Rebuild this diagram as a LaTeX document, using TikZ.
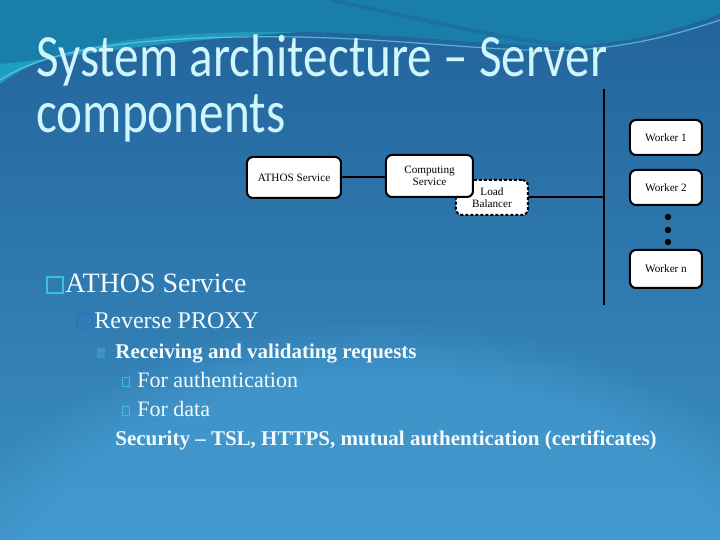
\documentclass[tikz,border=0pt]{standalone}
\usepackage{fontspec}
\setmainfont{Liberation Serif}
\newfontfamily\titlefont[FakeStretch=0.82]{Carlito}
\usetikzlibrary{positioning,fadings}

\definecolor{slidetop}{HTML}{21639A}
\definecolor{slidemid}{HTML}{2E7CB2}
\definecolor{slidebot}{HTML}{3C8FC3}
\definecolor{slideglow}{HTML}{48A3D8}
\definecolor{bandteal}{HTML}{1A7EAA}
\definecolor{bandbright}{HTML}{20A6C6}
\definecolor{swoosh}{HTML}{6FD6E6}
\definecolor{titlecyan}{HTML}{CFF5FD}
\definecolor{bulletcyan}{HTML}{3CC0D6}
\definecolor{bulletblue}{HTML}{2C74C0}
\definecolor{bulletfaint}{HTML}{3E92C8}
\definecolor{bodywhite}{HTML}{F4FBFF}

\tikzset{
  compbox/.style={draw=black, line width=1pt, fill=white, rounded corners=3pt,
    align=center, inner sep=1pt, font=\fontsize{5.6}{6.2}\selectfont},
  lbbox/.style={compbox, dash pattern=on 1.5pt off 1pt},
  wire/.style={line width=1pt},
  bulletsq/.style={line width=0.9pt},
  titletext/.style={anchor=base west, inner sep=0pt, text=titlecyan,
    font=\titlefont\fontsize{30}{29}\selectfont},
  level1/.style={anchor=base west, inner sep=0pt, text=bodywhite, font=\fontsize{14}{16}\selectfont},
  level2/.style={anchor=base west, inner sep=0pt, text=bodywhite, font=\fontsize{12}{14}\selectfont},
  level3/.style={anchor=base west, inner sep=0pt, text=bodywhite, font=\bfseries\fontsize{10.5}{12}\selectfont},
  level4/.style={anchor=base west, inner sep=0pt, text=bodywhite, font=\fontsize{11}{12}\selectfont}
}

\begin{document}
\begin{tikzpicture}[x=0.5pt, y=-0.5pt]
  \useasboundingbox (0,0) rectangle (720,540);

  % Slide background
  \fill[top color=slidetop, middle color=slidemid, bottom color=slidebot] (0,0) rectangle (720,540);
  \fill[slideglow, opacity=0.55, path fading=circle with fuzzy edge 20 percent]
    (380,620) ellipse (460 and 300);
  \fill[bandteal] (0,0) -- (0,84) .. controls (50,45) and (150,30) .. (300,32)
    .. controls (420,34) and (500,48) .. (575,46)
    .. controls (640,42) and (690,25) .. (720,14) -- (720,0) -- cycle;
  \fill[bandbright, opacity=0.8] (0,84) .. controls (50,45) and (150,30) .. (300,32)
    .. controls (150,42) and (50,60) .. (0,64) -- cycle;
  \draw[slidetop, opacity=0.45, line width=2pt] (330,0) .. controls (420,18) and (500,40) .. (575,46);
  \draw[swoosh, opacity=0.7, line width=0.6pt] (0,80) .. controls (50,47) and (150,35) .. (300,37)
    .. controls (420,40) and (500,53) .. (575,50) .. controls (640,46) and (690,30) .. (720,20);

  % Title
  \node[titletext] (title1) at (36,77) {System architecture – Server};
  \node[titletext] (title2) at (36,133) {components};

  % Server components
  \node[lbbox, minimum width=36pt, minimum height=17.5pt] (balancer) at (492,197.5) {Load\\Balancer};
  \node[compbox, minimum width=43.5pt, minimum height=21pt] (computing) at (429.5,176) {Computing\\Service};
  \node[compbox, minimum width=47pt, minimum height=20.5pt] (athos) at (294,177.5) {ATHOS Service};
  \draw[wire] (athos.east) -- (athos.east -| computing.west);

  \coordinate (bustop) at (604,89);
  \coordinate (busbot) at (604,305);
  \draw[wire] (bustop) -- (busbot);
  \draw[wire] (balancer.east) -- (balancer.east -| bustop);

  \node[compbox, minimum width=36pt, minimum height=17.5pt] (worker1) at (666,137.5) {Worker 1};
  \node[compbox, minimum width=36pt, minimum height=17.5pt, below=6.5pt of worker1] (worker2) {Worker 2};
  \node[compbox, minimum width=36pt, minimum height=19pt] (workern) at (666,269) {Worker n};
  \foreach \y in {217,230,242}
    \fill (668,\y) circle (1.6pt);

  % Bullet list
  \draw[bulletsq, bulletcyan] (47,277) rectangle (63,293);
  \node[level1] (athostext) at (65,293) {ATHOS Service};
  \draw[bulletsq, bulletblue] (77,314) rectangle (92,328);
  \node[level2] (proxytext) at (94,329) {Reverse PROXY};
  \fill[bulletfaint] (97,348) rectangle (105,358);
  \node[level3] (receivetext) at (115,359) {Receiving and validating requests};
  \draw[bulletsq, bulletcyan, line width=0.5pt] (122.5,378) rectangle (130,387);
  \node[level4] (authtext) at (137,388) {For authentication};
  \draw[bulletsq, bulletcyan, line width=0.5pt] (122.5,407) rectangle (130,416);
  \node[level4] (datatext) at (137,417) {For data};
  \fill[bulletfaint] (97,435) rectangle (105,445);
  \node[level3] (securitytext) at (115,446) {Security – TSL, HTTPS, mutual authentication (certificates)};
\end{tikzpicture}
\end{document}
